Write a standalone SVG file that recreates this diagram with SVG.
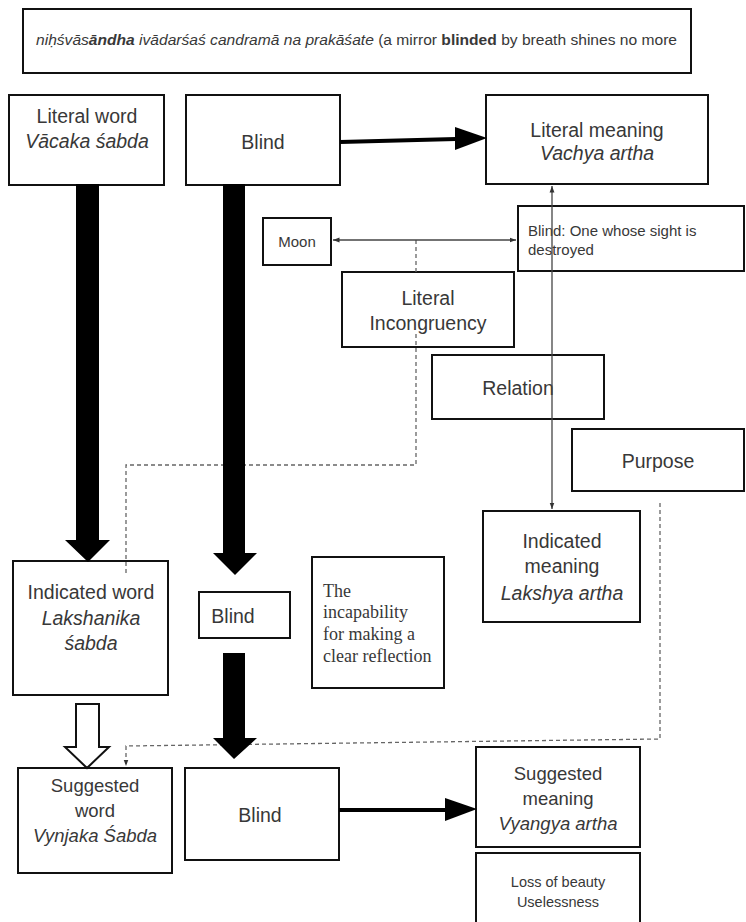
<svg xmlns="http://www.w3.org/2000/svg" width="746" height="922" viewBox="0 0 746 922">
  <defs>
    <marker id="tip" viewBox="0 0 8 8" refX="8" refY="4" markerWidth="5" markerHeight="5" orient="auto-start-reverse">
      <path d="M0,1 L8,4 L0,7 z" fill="#333"/>
    </marker>
  </defs>
  <style>
    .box{fill:#fff;stroke:#111;stroke-width:2}
    .t{font-family:"Liberation Sans",Arial,sans-serif;font-size:19.5px;fill:#383838;text-anchor:middle}
    .i{font-style:italic}
    .sm{font-size:15px}
    .st{text-anchor:start}
    .serif{font-family:"Liberation Serif","Times New Roman",serif;font-size:18px;text-anchor:start}
    .thin{stroke:#444;stroke-width:1.3;fill:none}
    .dash{stroke:#666;stroke-width:1.3;fill:none;stroke-dasharray:4 3}
    .bar{fill:#000}
    .hollow{fill:#fff;stroke:#111;stroke-width:2;stroke-linejoin:miter}
    .line{stroke:#000;stroke-width:4;fill:none}
  </style>

  <rect width="746" height="922" fill="#fff"/>

  <!-- nodes -->
  <g id="verse">
    <rect class="box" x="23" y="9" width="668" height="64"/>
    <text class="t st" x="36" y="45" style="font-size:14px" textLength="641" lengthAdjust="spacingAndGlyphs"><tspan class="i">niḥśvās</tspan><tspan class="i" font-weight="bold">āndha</tspan><tspan class="i"> ivādarśaś candramā na prakāśate</tspan> (a mirror <tspan font-weight="bold">blinded</tspan> by breath shines no more</text>
  </g>

  <g id="literal-word">
    <rect class="box" x="9" y="95" width="155" height="90"/>
    <text class="t" x="87" y="123">Literal word</text>
    <text class="t i" x="87" y="148">Vācaka śabda</text>
  </g>

  <g id="blind-literal">
    <rect class="box" x="186" y="95" width="154" height="90"/>
    <text class="t" x="263" y="149">Blind</text>
  </g>

  <g id="literal-meaning">
    <rect class="box" x="486" y="95" width="222" height="89"/>
    <text class="t" x="597" y="137">Literal meaning</text>
    <text class="t i" x="597" y="160">Vachya artha</text>
  </g>

  <g id="moon">
    <rect class="box" x="263" y="218" width="68" height="47"/>
    <text class="t sm" x="297" y="247">Moon</text>
  </g>

  <g id="blind-definition">
    <rect class="box" x="518" y="206" width="226" height="65"/>
    <text class="t sm st" x="528" y="236">Blind: One whose sight is</text>
    <text class="t sm st" x="528" y="255">destroyed</text>
  </g>

  <g id="incongruency">
    <rect class="box" x="342" y="272" width="172" height="75"/>
    <text class="t" x="428" y="305">Literal</text>
    <text class="t" x="428" y="330">Incongruency</text>
  </g>

  <g id="relation">
    <rect class="box" x="432" y="355" width="172" height="64"/>
    <text class="t" x="518" y="395">Relation</text>
  </g>

  <g id="purpose">
    <rect class="box" x="572" y="429" width="172" height="62"/>
    <text class="t" x="658" y="468">Purpose</text>
  </g>

  <g id="indicated-meaning">
    <rect class="box" x="483" y="511" width="157" height="111"/>
    <text class="t" x="562" y="548">Indicated</text>
    <text class="t" x="562" y="573">meaning</text>
    <text class="t i" x="562" y="600">Lakshya artha</text>
  </g>

  <g id="indicated-word">
    <rect class="box" x="13" y="561" width="155" height="134"/>
    <text class="t" x="91" y="599">Indicated word</text>
    <text class="t i" x="91" y="625">Lakshanika</text>
    <text class="t i" x="91" y="650">śabda</text>
  </g>

  <g id="blind-indicated">
    <rect class="box" x="199" y="592" width="91" height="46"/>
    <text class="t" x="233" y="623">Blind</text>
  </g>

  <g id="reflection">
    <rect class="box" x="312" y="557" width="132" height="131"/>
    <text class="t serif" x="323" y="597">The</text>
    <text class="t serif" x="323" y="618">incapability</text>
    <text class="t serif" x="323" y="640">for making a</text>
    <text class="t serif" x="323" y="662">clear reflection</text>
  </g>

  <g id="suggested-word">
    <rect class="box" x="18" y="768" width="154" height="105"/>
    <text class="t" x="95" y="792" style="font-size:18.5px">Suggested</text>
    <text class="t" x="95" y="817" style="font-size:18.5px">word</text>
    <text class="t i" x="95" y="842" style="font-size:18.5px">Vynjaka Śabda</text>
  </g>

  <g id="blind-suggested">
    <rect class="box" x="185" y="768" width="154" height="92"/>
    <text class="t" x="260" y="822">Blind</text>
  </g>

  <g id="suggested-meaning">
    <rect class="box" x="476" y="747" width="164" height="100"/>
    <text class="t" x="558" y="780" style="font-size:18.5px">Suggested</text>
    <text class="t" x="558" y="805" style="font-size:18.5px">meaning</text>
    <text class="t i" x="558" y="830" style="font-size:18.5px">Vyangya artha</text>
  </g>

  <g id="loss">
    <rect class="box" x="476" y="853" width="164" height="90"/>
    <text class="t" x="558" y="887" style="font-size:14.5px">Loss of beauty</text>
    <text class="t" x="558" y="907" style="font-size:14.5px">Uselessness</text>
  </g>

  <!-- connectors -->
  <g id="connectors">
    <!-- dashed guides -->
    <path class="dash" d="M416,240 V272"/>
    <path class="dash" d="M416,334 V465 H126 V575"/>
    <path class="dash" d="M660,503 V739 L126,746 V766" marker-end="url(#tip)"/>

    <!-- thin two-way links -->
    <path class="thin" d="M333,240 H516" marker-start="url(#tip)" marker-end="url(#tip)"/>
    <path class="thin" d="M552,186 V509" marker-start="url(#tip)" marker-end="url(#tip)"/>

    <!-- heavy horizontal arrows -->
    <path class="line" d="M340,142 L456,139"/>
    <polygon class="bar" points="455,127 487,138 455,150"/>
    <path class="line" d="M339,810 H446"/>
    <polygon class="bar" points="445,798 477,809 445,821"/>

    <!-- block arrows -->
    <polygon class="bar" points="76,184 99,184 99,540 110,540 88,562 65,540 76,540"/>
    <polygon class="bar" points="223,184 245,184 245,553 257,553 235,575 213,553 223,553"/>
    <polygon class="bar" points="223,653 245,653 245,738 257,738 234,759 213,738 223,738"/>
    <polygon class="hollow" points="76,704 99,704 99,747 109,747 87,768 65,747 76,747"/>
  </g>
</svg>
